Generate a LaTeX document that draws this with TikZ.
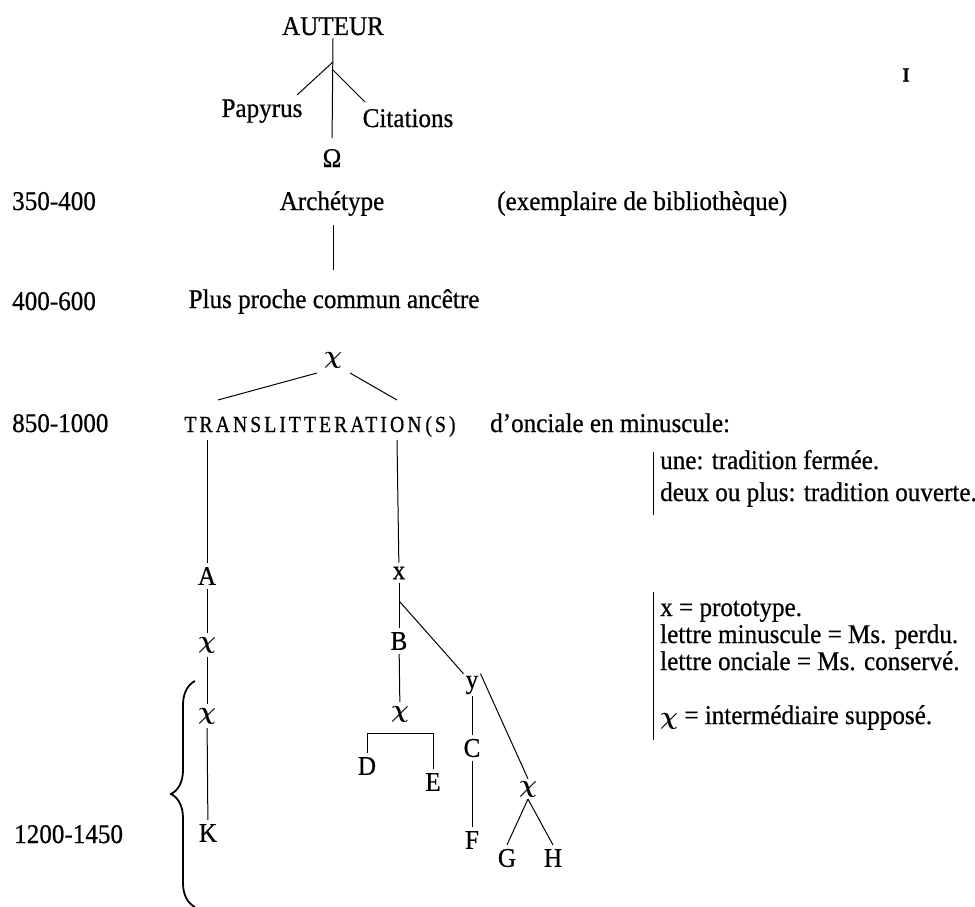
\documentclass[tikz,border=0pt]{standalone}
\usepackage{fontspec}
\setmainfont{Liberation Serif}[FakeStretch=0.93, FakeBold=0.6]
\newfontfamily\transfont{Liberation Serif}[FakeStretch=0.86, LetterSpace=13, FakeBold=0.6]
\usetikzlibrary{decorations.pathreplacing}
\newcommand{\chiglyph}{\fontsize{36}{36}\selectfont\(\boldsymbol{\chi}\)}
\usepackage{amsmath}
\usepackage{bm}
\renewcommand{\chiglyph}{\fontsize{36}{36}\selectfont\(\bm{\chi}\)}
\begin{document}
\begin{tikzpicture}[x=1pt,y=-1pt,
  every node/.style={font=\fontsize{27}{31}\selectfont},
  ln/.style={line width=1pt},
  tn/.style={inner sep=4pt},
  txt/.style={anchor=base, inner sep=3pt},
  lab/.style={anchor=base west, inner sep=0pt},
  leg/.style={anchor=base west, inner sep=0pt}]
\useasboundingbox (0,0) rectangle (975,907);
% top
\node[txt] (auteur) at (333,35) {AUTEUR};
\coordinate (j1) at (333,62);
\coordinate (j2) at (333,70);
\node[txt] (pap) at (262,117) {Papyrus};
\node[txt] (cit) at (408,127) {Citations};
\node[txt] (omega) at (332,167) {Ω};
\draw[ln, shorten >=8pt] (auteur.south) -- (omega.north);
\coordinate (pe) at (297,95);
\coordinate (ce) at (365,102);
\draw[ln] (j1) -- (pe);
\draw[ln] (j2) -- (ce);
\node[font=\fontsize{20}{22}\selectfont\bfseries, inner sep=0pt] (stray) at (906,75) {I};
% rows
\node[lab] (d1) at (12,210) {350-400};
\node[txt] (arch) at (332,210) {Archétype};
\node[lab] (ex) at (497,210) {(exemplaire de bibliothèque)};
\coordinate (a1) at (333,225);
\coordinate (a2) at (333,270);
\draw[ln] (a1) -- (a2);
\node[lab] (d2) at (12,310) {400-600};
\node[txt] (ppca) at (334,308) {Plus proche commun ancêtre};
\node[inner sep=0pt] (chi0) at (333,360) {\chiglyph};
\coordinate (tl) at (218,400);
\coordinate (tr) at (397,400);
\coordinate (cl) at (317,373);
\coordinate (cr) at (350,373);
\draw[ln] (cl) -- (tl);
\draw[ln] (cr) -- (tr);
\node[lab] (d3) at (12,432) {850-1000};
\node[txt] (trans) at (320,432) {\fontsize{23}{27}\transfont TRANSLITTERATION\,(S)};
\node[lab] (onc) at (490,432) {d’onciale en minuscule:};
% legend
\coordinate (b1t) at (653,452);
\coordinate (b1b) at (653,515);
\draw[ln] (b1t) -- (b1b);
\node[leg] (l1) at (660,469) {une: tradition fermée.};
\node[leg] (l2) at (660,501) {deux ou plus: tradition ouverte.};
\coordinate (b2t) at (653,592);
\coordinate (b2b) at (653,740);
\draw[ln] (b2t) -- (b2b);
\node[leg] (l3) at (660,616) {x = prototype.};
\node[leg] (l4) at (660,643) {lettre minuscule = Ms. perdu.};
\node[leg] (l5) at (660,670) {lettre onciale = Ms. conservé.};
\node[leg] (l6) at (660,724) {{\fontsize{32}{32}\selectfont\(\bm{\chi}\)} = intermédiaire supposé.};
% left branch
\coordinate (lt) at (207,440);
\node[tn] (A) at (207,576) {A};
\node[tn] (c1) at (207,645) {\chiglyph};
\node[tn] (c2) at (207,716) {\chiglyph};
\node[tn] (K) at (208,833) {K};
\draw[ln] (lt) -- (A);
\draw[ln] (A) -- (c1);
\draw[ln] (c1) -- (c2);
\draw[ln] (c2) -- (K);
\draw[line width=1.8pt, decorate, decoration={brace, amplitude=24pt}] (195,907) -- (195,681);
\node[lab] (d4) at (14,843) {1200-1450};
% right branch
\coordinate (rt) at (397,440);
\node[tn] (x) at (399,573) {x};
\node[tn] (B) at (399,641) {B};
\node[tn] (c3) at (400,714) {\chiglyph};
\draw[ln] (rt) -- (x);
\draw[ln] (x) -- (B);
\draw[ln] (B) -- (c3);
\coordinate (xd) at (400,602);
\node[tn, inner sep=2pt] (y) at (472,685) {y};
\draw[ln] (xd) -- (y.north west);
\node[tn] (D) at (367,766) {D};
\node[tn] (E) at (433,782) {E};
\coordinate (br1) at (367,733);
\coordinate (br2) at (433,733);
\draw[ln] (D.north) -- (br1) -- (br2) -- (E.north);
\node[tn] (C) at (472,748) {C};
\node[tn] (F) at (472,840) {F};
\draw[ln] (y) -- (C);
\draw[ln] (C) -- (F);
\node[tn, inner sep=2pt] (c4) at (528,789) {\chiglyph};
\draw[ln] (y.north east) -- (c4.north);
\node[tn] (G) at (507,858) {G};
\node[tn] (H) at (553,858) {H};
\draw[ln] (c4.south) -- (G.north);
\draw[ln] (c4.south) -- (H.north);
\end{tikzpicture}
\end{document}
